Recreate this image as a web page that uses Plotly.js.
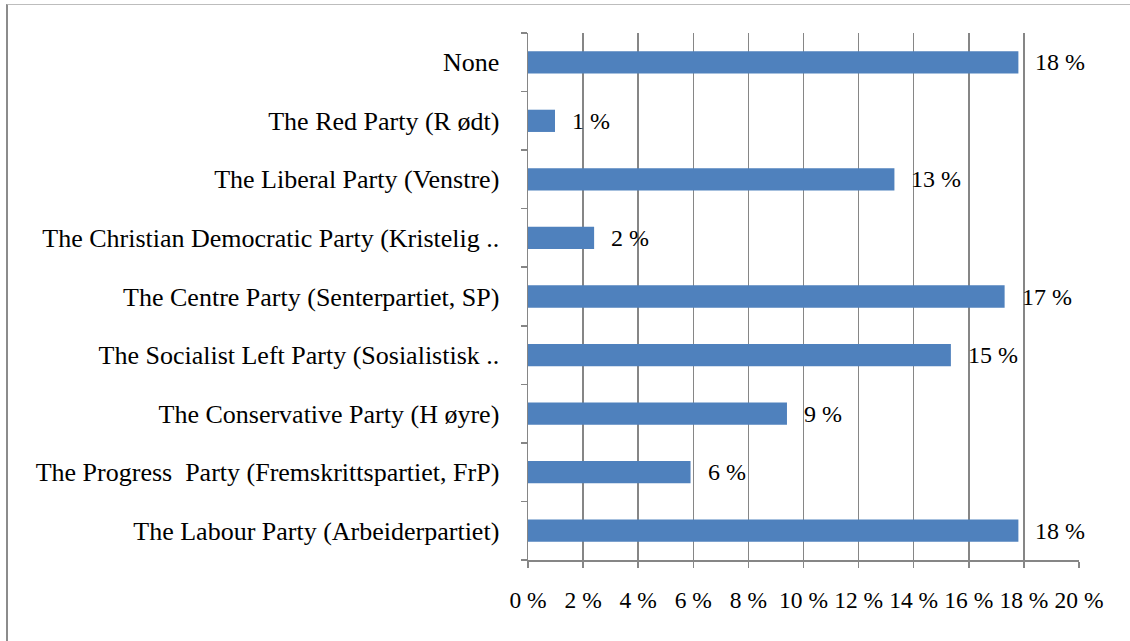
<!DOCTYPE html>
<html>
<head>
<meta charset="utf-8">
<script src="https://cdn.plot.ly/plotly-3.0.1.min.js"></script>
<style>
  html, body { margin: 0; padding: 0; background: #ffffff; }
  #wrap { position: relative; width: 1130px; height: 641px; overflow: hidden; }
  #chart { position: absolute; left: 0; top: 0; width: 1130px; height: 641px; }
  #frame { position: absolute; left: 6px; top: 4px; width: 1140px; height: 660px;
           border-left: 2px solid #8c8c8c; border-top: 1px solid #bdbdbd; pointer-events: none; }
</style>
</head>
<body>
<div id="wrap">
  <div id="chart"></div>
  <div id="frame"></div>
</div>
<script>
// Categories listed bottom to top
const categories = [
  "The Labour Party (Arbeiderpartiet)",
  "The Progress  Party (Fremskrittspartiet, FrP)",
  "The Conservative Party (H øyre)",
  "The Socialist Left Party (Sosialistisk ..",
  "The Centre Party (Senterpartiet, SP)",
  "The Christian Democratic Party (Kristelig ..",
  "The Liberal Party (Venstre)",
  "The Red Party (R ødt)",
  "None"
];
const values = [17.8, 5.9, 9.4, 15.35, 17.3, 2.4, 13.3, 0.98, 17.8];
const valueLabels = ["18 %", "6 %", "9 %", "15 %", "17 %", "2 %", "13 %", "1 %", "18 %"];
const tickValues = [0, 2, 4, 6, 8, 10, 12, 14, 16, 18, 20];
const tickLabels = ["0 %", "2 %", "4 %", "6 %", "8 %", "10 %", "12 %", "14 %", "16 %", "18 %", "20 %"];

const fontFamily = "Liberation Serif, Times New Roman, serif";
const grey = "#868686";

const trace = {
  type: "bar",
  orientation: "h",
  x: values,
  y: categories,
  marker: { color: "#4f81bd" },
  hoverinfo: "skip"
};

const annotations = values.map((v, i) => ({
  x: v, y: categories[i], xref: "x", yref: "y",
  text: valueLabels[i], showarrow: false,
  xanchor: "left", yanchor: "middle", xshift: 15,
  font: { family: fontFamily, size: 24, color: "#000000" }
}));

const layout = {
  width: 1130, height: 641,
  margin: { l: 528, r: 51, t: 33, b: 81, pad: 0 },
  paper_bgcolor: "#ffffff",
  plot_bgcolor: "#ffffff",
  showlegend: false,
  bargap: 0.62,
  font: { family: fontFamily, size: 22, color: "#000000" },
  xaxis: {
    range: [0, 20],
    tickvals: tickValues,
    ticktext: tickLabels,
    showgrid: true, gridcolor: grey, gridwidth: 1.5,
    showline: true, linecolor: grey, linewidth: 1.5,
    ticks: "outside", ticklen: 6, tickcolor: grey, tickwidth: 1.5,
    ticklabelstandoff: 12,
    zeroline: false, fixedrange: true,
    tickfont: { family: fontFamily, size: 23.5, color: "#000000" }
  },
  yaxis: {
    type: "category",
    categoryorder: "array", categoryarray: categories,
    showgrid: false,
    showline: true, linecolor: grey, linewidth: 1.5,
    ticks: "outside", ticklen: 6, tickcolor: grey, tickwidth: 1.5,
    tickson: "boundaries",
    ticklabelstandoff: 22,
    fixedrange: true,
    tickfont: { family: fontFamily, size: 26, color: "#000000" }
  },
  annotations: annotations
};

Plotly.newPlot("chart", [trace], layout, { displayModeBar: false, staticPlot: true });
</script>
</body>
</html>
